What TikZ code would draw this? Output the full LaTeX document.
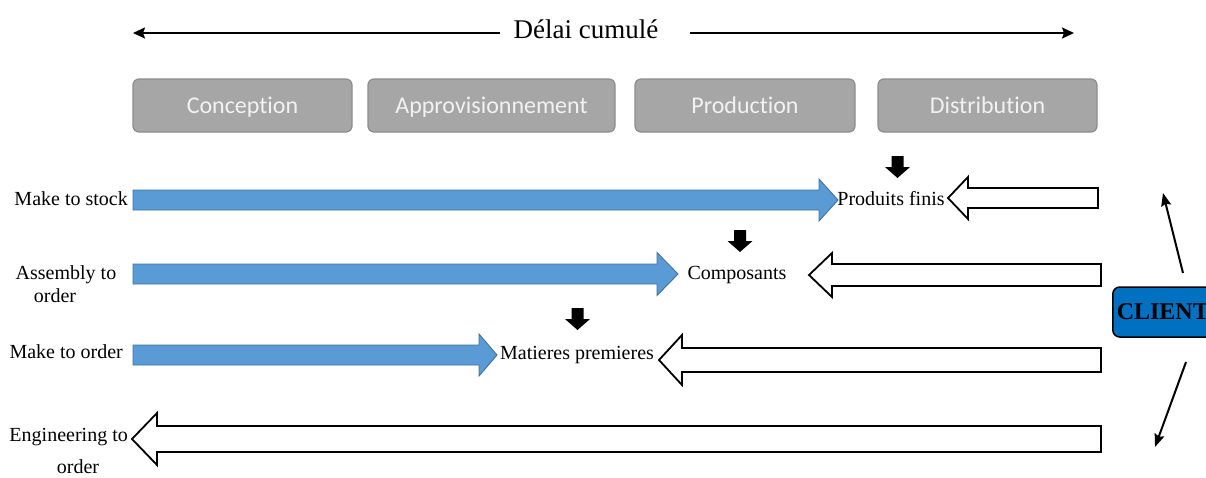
\documentclass[tikz,border=0pt]{standalone}
\usepackage{fontspec}
\setmainfont{Liberation Serif}
\newfontfamily\stagefont[Ligatures=NoCommon]{Carlito}
\usetikzlibrary{arrows.meta}

\definecolor{stagegray}{HTML}{A6A6A6}
\definecolor{stageedge}{HTML}{8C8C8C}
\definecolor{stagetext}{HTML}{F2F2F2}
\definecolor{flowblue}{HTML}{5B9BD5}
\definecolor{flowedge}{HTML}{41719C}
\definecolor{clientblue}{HTML}{0070C0}

% right-pointing block arrow: [style] tail x, tip x, centre y, shaft half-height, head half-height, head length
\newcommand{\blockright}[7][]{%
  \draw[#1] (#2,#4-#5) -- (#3-#7,#4-#5) -- (#3-#7,#4-#6) -- (#3,#4)
    -- (#3-#7,#4+#6) -- (#3-#7,#4+#5) -- (#2,#4+#5) -- cycle;}
% left-pointing block arrow: [style] tail x, tip x, centre y, shaft half-height, head half-height, head length
\newcommand{\blockleft}[7][]{%
  \draw[#1] (#2,#4-#5) -- (#3+#7,#4-#5) -- (#3+#7,#4-#6) -- (#3,#4)
    -- (#3+#7,#4+#6) -- (#3+#7,#4+#5) -- (#2,#4+#5) -- cycle;}
% small solid downward arrow: centre x, top y
\newcommand{\blockdown}[2]{%
  \fill (#1-6,#2) -- (#1+6,#2) -- (#1+6,#2+11) -- (#1+12.5,#2+11)
    -- (#1,#2+22) -- (#1-12.5,#2+11) -- (#1-6,#2+11) -- cycle;}

\tikzset{
  lbl/.style={font=\fontsize{20}{24}\selectfont, inner sep=0pt,
    text height=14pt, text depth=4pt},
  stage/.style={draw=stageedge, line width=1.2pt, fill=stagegray,
    rounded corners=6pt, minimum height=53pt, text=stagetext,
    text height=15pt, text depth=0pt,
    font=\stagefont\fontsize{24}{28}\selectfont, inner sep=0pt},
  flow/.style={fill=flowblue, draw=flowedge, line width=0.9pt},
  demand/.style={fill=white, draw=black, line width=1.8pt},
  span/.style={line width=2pt, -{Stealth[length=12pt,width=11pt,inset=2pt]}},
  pull/.style={line width=2pt, -{Stealth[length=13pt,width=10pt,inset=2pt]}}
}

\begin{document}
\begin{tikzpicture}[x=1pt, y=-1pt]
\useasboundingbox (0,0) rectangle (1206,477);

% cumulative lead time
\node[font=\fontsize{27}{32}\selectfont, inner sep=0pt] (title) at (586,29) {Délai cumulé};
\coordinate (spanL0) at (500,33);
\coordinate (spanL1) at (133,33);
\coordinate (spanR0) at (690,33);
\coordinate (spanR1) at (1074,33);
\draw[span] (spanL0) -- (spanL1);
\draw[span] (spanR0) -- (spanR1);

% stages
\node[stage, minimum width=219pt] (conc) at (242.5,105.5) {Conception};
\node[stage, minimum width=247pt] (appro) at (491.5,105.5) {Approvisionnement};
\node[stage, minimum width=220pt] (prod) at (745,105.5) {Production};
\node[stage, minimum width=219pt] (distr) at (987.5,105.5) {Distribution};

% push flows (forecast driven)
\blockright[flow]{133}{838}{200}{10}{21}{19}
\blockright[flow]{133}{678}{274}{10}{21.5}{21}
\blockright[flow]{133}{497}{355}{10}{21}{18}

% pull flows (order driven)
\blockleft[demand]{1098}{948}{198}{10}{21}{20}
\blockleft[demand]{1101}{809}{275}{11}{22}{23}
\blockleft[demand]{1101}{659}{360}{12}{25}{23}
\blockleft[demand]{1101}{132}{439}{13}{26}{25}

% decoupling points
\blockdown{897.5}{156}
\blockdown{740}{230}
\blockdown{577.5}{308}

% strategy labels
\node[lbl, anchor=east] (mts) at (128,200) {Make to stock};
\node[lbl] (ato1) at (66,274) {Assembly to};
\node[lbl] (ato2) at (55,297) {order};
\node[lbl, anchor=east] (mto) at (123,353) {Make to order};
\node[lbl, anchor=east] (eto1) at (128,436) {Engineering to};
\node[lbl] (eto2) at (78,468) {order};

% stock points
\node[lbl] (pf) at (891,200) {Produits finis};
\node[lbl] (comp) at (737,274) {Composants};
\node[lbl] (mp) at (577,354) {Matieres premieres};

% customer
\node[draw=black, line width=1.5pt, fill=clientblue, rounded corners=7pt,
  anchor=west, minimum height=50pt, text width=100pt, align=left,
  inner xsep=4pt, font=\bfseries\fontsize{24}{28}\selectfont] (client) at (1112,312) {CLIENT};
\coordinate (up0) at (1183,273);
\coordinate (up1) at (1163,193);
\coordinate (dn0) at (1186,362);
\coordinate (dn1) at (1155,447);
\draw[pull] (up0) -- (up1);
\draw[pull] (dn0) -- (dn1);
\end{tikzpicture}
\end{document}
